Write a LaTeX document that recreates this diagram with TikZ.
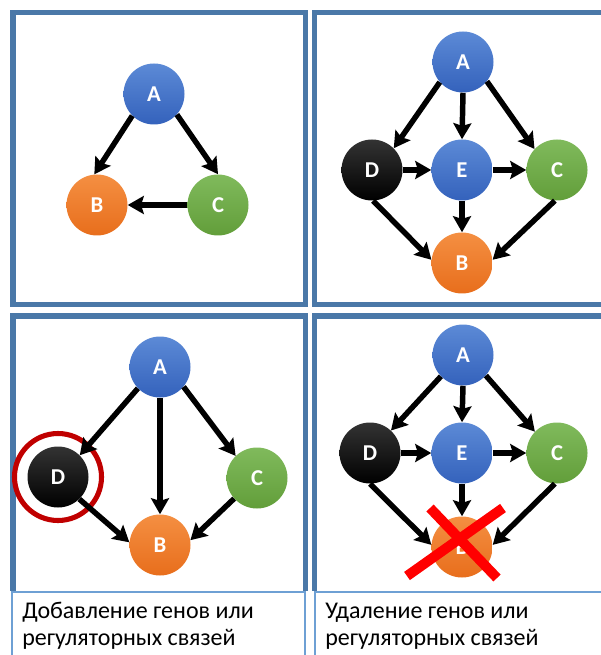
\documentclass[tikz,border=0pt]{standalone}
\usepackage{fontspec}
\setmainfont{Carlito}
\usetikzlibrary{arrows.meta}

\definecolor{panelblue}{RGB}{74,120,168}
\definecolor{capblue}{RGB}{110,160,212}
\definecolor{blueT}{RGB}{92,138,214}
\definecolor{blueB}{RGB}{52,98,188}
\definecolor{orangeT}{RGB}{244,143,66}
\definecolor{orangeB}{RGB}{232,110,28}
\definecolor{greenT}{RGB}{128,186,92}
\definecolor{greenB}{RGB}{98,158,58}
\definecolor{ringred}{RGB}{192,0,0}

\tikzset{
  gene/.style={circle, minimum size=45.75pt, inner sep=0pt, text=white,
    font=\fontsize{17}{17}\selectfont\bfseries},
  blueg/.style={gene, top color=blueT, bottom color=blueB},
  orangeg/.style={gene, top color=orangeT, bottom color=orangeB},
  greeng/.style={gene, top color=greenT, bottom color=greenB},
  blackg/.style={gene, top color=black!80, bottom color=black},
  link/.style={line width=4.1pt, -{Stealth[length=12pt,width=13.5pt,inset=2pt]}},
  panel/.style={draw=panelblue, line width=4.1pt},
  capbox/.style={draw=capblue, line width=1.5pt},
  caption/.style={anchor=base west, inner sep=0pt, font=\fontsize{18}{18}\selectfont}
}

\begin{document}
\begin{tikzpicture}[x=0.75pt,y=0.75pt,yscale=-1,xscale=1]
\useasboundingbox (0,0) rectangle (600,655);

%Panels
    \draw [panel] (13,12.5) rectangle (305.5,304.5);
    \draw [panel] (314.5,12.5) rectangle (610,304.5);
    \draw [panel] (13,591) -- (13,316) -- (305.5,316) -- (305.5,591);
    \draw [panel] (314.5,591) -- (314.5,316) -- (610,316);
%Caption boxes
    \draw [capbox] (12,592) rectangle (304.5,670);
    \draw [capbox] (314.5,592) rectangle (610,670);

%Panel 1: A, B, C
    \node [blueg] (a1) at (154,94) {A};
    \node [orangeg] (b1) at (97,205) {B};
    \node [greeng] (c1) at (218,205) {C};
    \draw [link] (a1.225) -- (b1.95);
    \draw [link] (a1.-42) -- (c1.90);
    \draw [link] (c1.west) -- (b1.east);

%Panel 2: with D and E
    \node [blueg] (a2) at (463,62) {A};
    \node [blackg] (d2) at (372,170) {D};
    \node [blueg] (e2) at (462,170) {E};
    \node [greeng] (c2) at (557,170) {C};
    \node [orangeg] (b2) at (462,263) {B};
    \draw [link] (a2.221) -- (d2.45);
    \draw [link] (a2.south) -- (e2.north);
    \draw [link] (a2.-39) -- (c2.137);
    \draw [link] (d2.east) -- (e2.west);
    \draw [link] (e2.east) -- (c2.west);
    \draw [link] (e2.south) -- (b2.north);
    \draw [link] (d2.-88) -- (b2.174);
    \draw [link] (c2.-94) -- (b2.6);

%Panel 3: D added
    \node [blueg] (a3) at (160,367) {A};
    \node [blackg] (d3) at (58,477) {D};
    \node [greeng] (c3) at (257,478) {C};
    \node [orangeg] (b3) at (160,545) {B};
    \draw [draw=ringred, line width=3.8pt] (d3.center) circle (43.5);
    \draw [link] (a3.224) -- (d3.45);
    \draw [link] (a3.south) -- (b3.north);
    \draw [link] (a3.-40) -- (c3.134);
    \draw [link] (d3.-46) -- (b3.175);
    \draw [link] (c3.222) -- (b3.9);

%Panel 4: B removed
    \node [blueg] (a4) at (463,355) {A};
    \node [blackg] (d4) at (370,453) {D};
    \node [blueg] (e4) at (462,453) {E};
    \node [greeng] (c4) at (557,453) {C};
    \node [orangeg] (b4) at (462,547) {B};
    \draw [link] (a4.224) -- (d4.47);
    \draw [link] (a4.south) -- (e4.north);
    \draw [link] (a4.-42) -- (c4.136);
    \draw [link] (d4.east) -- (e4.west);
    \draw [link] (e4.east) -- (c4.west);
    \draw [link] (e4.south) -- (b4.north);
    \draw [link] (d4.-90) -- (b4.176);
    \draw [link] (c4.-94) -- (b4.4);
    \draw [red, line width=7.5pt] ([shift={(-32,-39)}]b4.center) -- ([shift={(35,31)}]b4.center);
    \draw [red, line width=7.5pt] ([shift={(41,-39)}]b4.center) -- ([shift={(-55,29)}]b4.center);

% Text Node
    \node [caption] (t1) at (22,618) {Добавление генов или};
    \node [caption] (t2) at (22,645) {регуляторных связей};
% Text Node
    \node [caption] (t3) at (325,618) {Удаление генов или};
    \node [caption] (t4) at (325,645) {регуляторных связей};

\end{tikzpicture}
\end{document}
